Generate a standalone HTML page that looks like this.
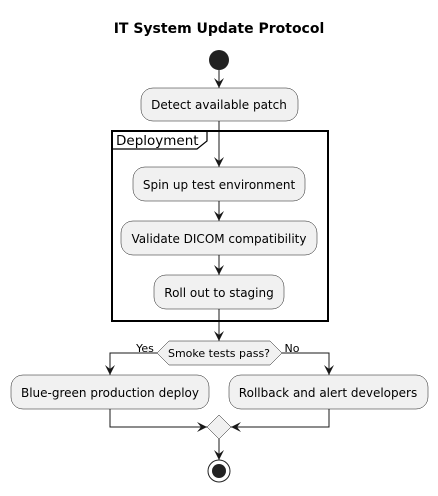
<!DOCTYPE html>
<html><head><meta charset="utf-8"><style>body{margin:0;background:#fff}</style></head><body>
<svg width="438" height="491" viewBox="0 0 438 491" xmlns="http://www.w3.org/2000/svg" font-family="'DejaVu Sans', 'Liberation Sans', sans-serif">
<rect width="438" height="491" fill="#fff"/>
<text x="219" y="33" text-anchor="middle" font-size="14" font-weight="bold">IT System Update Protocol</text>
<circle cx="219" cy="60" r="10" fill="#222"/>
<g stroke="#181818" stroke-width="1" fill="none">
<line x1="219" y1="70" x2="219" y2="88"/>
<line x1="219" y1="121" x2="219" y2="167"/>
<line x1="219" y1="201" x2="219" y2="221"/>
<line x1="219" y1="255" x2="219" y2="275"/>
<line x1="219" y1="309" x2="219" y2="341"/>
<polyline points="157,353 110,353 110,375"/>
<polyline points="282,353 329,353 329,375"/>
<polyline points="110,409 110,427 207,427"/>
<polyline points="329,409 329,427 231,427"/>
<line x1="219" y1="439" x2="219" y2="460"/>
</g>
<g fill="#181818">
<polygon points="219,88 214,78 219,82 224,78"/>
<polygon points="219,167 214,157 219,161 224,157"/>
<polygon points="219,221 214,211 219,215 224,211"/>
<polygon points="219,275 214,265 219,269 224,265"/>
<polygon points="219,341 214,331 219,335 224,331"/>
<polygon points="110,375 105,365 110,369 115,365"/>
<polygon points="329,375 324,365 329,369 334,365"/>
<polygon points="207,427 197,422 201,427 197,432"/>
<polygon points="231,427 241,422 237,427 241,432"/>
<polygon points="219,460 214,450 219,454 224,450"/>
</g>
<rect x="112" y="131" width="216" height="190" fill="none" stroke="#000" stroke-width="2"/>
<path d="M112,131 L207,131 L207,141 L197,149 L112,149" fill="none" stroke="#000" stroke-width="1.2"/>
<text x="116" y="145" font-size="13.5">Deployment</text>
<g fill="#f1f1f1" stroke="#181818" stroke-width="0.5">
<rect x="141" y="88" width="157" height="33" rx="12"/>
<rect x="133" y="167" width="172" height="34" rx="12"/>
<rect x="121" y="221" width="196" height="34" rx="12"/>
<rect x="154" y="275" width="130" height="34" rx="12"/>
<rect x="11" y="375" width="198" height="34" rx="12"/>
<rect x="229" y="375" width="199" height="34" rx="12"/>
<polygon points="157,353 169,341 270,341 282,353 270,365 169,365"/>
<polygon points="219,415 231,427 219,439 207,427"/>
</g>
<g font-size="12" text-anchor="middle" fill="#000">
<text x="219" y="109">Detect available patch</text>
<text x="219" y="189">Spin up test environment</text>
<text x="219" y="243">Validate DICOM compatibility</text>
<text x="219" y="297">Roll out to staging</text>
<text x="110" y="397">Blue-green production deploy</text>
<text x="328" y="397">Rollback and alert developers</text>
<text x="219" y="357" font-size="11">Smoke tests pass?</text>
<text x="145" y="352" font-size="11">Yes</text>
<text x="292" y="352" font-size="11">No</text>
</g>
<circle cx="219" cy="471" r="11" fill="none" stroke="#222" stroke-width="1"/>
<circle cx="219" cy="471" r="7" fill="#222"/>
</svg>
</body></html>
